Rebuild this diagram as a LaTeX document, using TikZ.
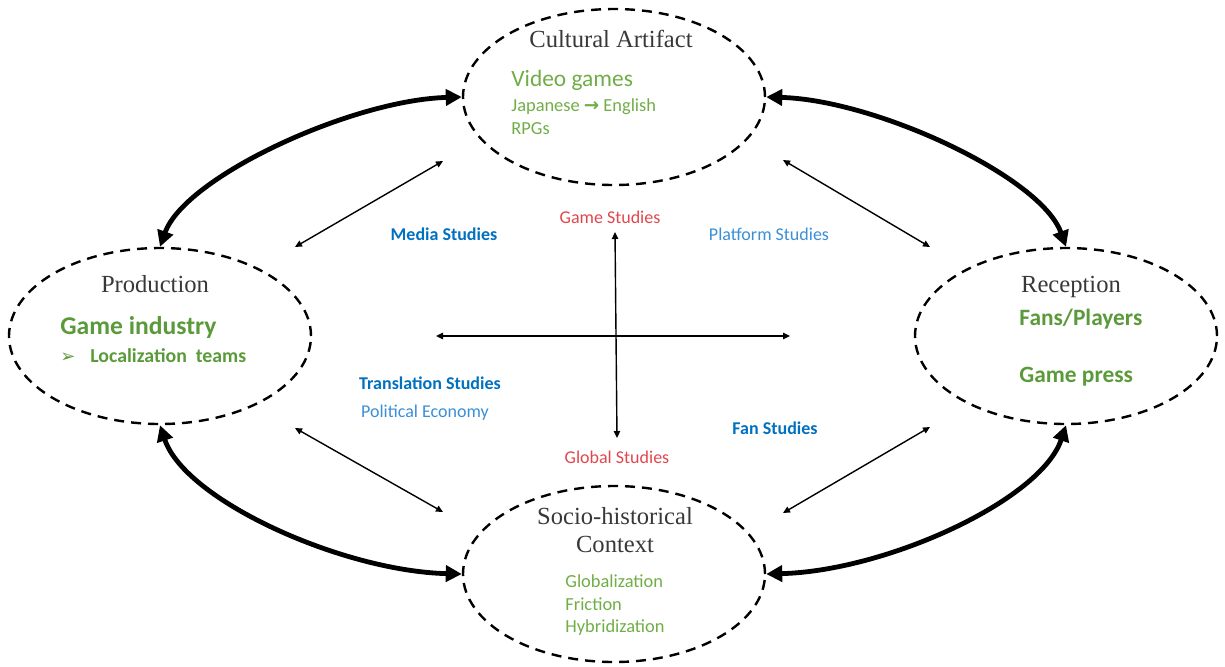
\documentclass[tikz,border=0pt]{standalone}
\usepackage{fontspec}
\setmainfont{Liberation Serif}
\newfontfamily\calfont{Carlito}
\newfontfamily\dvfont{DejaVu Sans}
\usetikzlibrary{shapes.geometric,arrows.meta}
\definecolor{headgray}{HTML}{383838}
\definecolor{greenreg}{HTML}{70AD47}
\definecolor{greenbold}{HTML}{5B9A3A}
\definecolor{bluebold}{HTML}{0070C0}
\definecolor{bluelight}{HTML}{3A8FD6}
\definecolor{studred}{HTML}{E0474C}
\begin{document}
\begin{tikzpicture}[x=0.5pt,y=-0.5pt,
  sphere/.style={ellipse, draw=black, dash pattern=on 5pt off 3.5pt, line width=1.2pt,
    minimum width=151pt, minimum height=88pt, inner sep=0pt},
  headtxt/.style={font=\fontsize{12.3}{14}\selectfont, text=headgray, inner sep=0pt, anchor=mid},
  greenbig/.style={font=\calfont\fontsize{11.7}{14}\selectfont, text=greenreg, inner sep=0pt, anchor=mid west},
  greensmall/.style={font=\calfont\fontsize{9.2}{11}\selectfont, text=greenreg, inner sep=0pt, anchor=mid west},
  greenstrong/.style={font=\calfont\bfseries\fontsize{11.7}{14}\selectfont, text=greenbold, inner sep=0pt, anchor=mid west},
  studbold/.style={font=\calfont\bfseries\fontsize{9}{11}\selectfont, text=bluebold, inner sep=0pt, anchor=mid},
  studlight/.style={font=\calfont\fontsize{9}{11}\selectfont, text=bluelight, inner sep=0pt, anchor=mid},
  studredtxt/.style={font=\calfont\fontsize{9}{11}\selectfont, text=studred, inner sep=0pt, anchor=mid},
  thickarrow/.style={line width=2.4pt, {Triangle[length=8pt,width=8pt]}-{Triangle[length=8pt,width=8pt]}},
  thinarrow/.style={line width=0.7pt, {Triangle[length=3.5pt,width=3.2pt]}-{Triangle[length=3.5pt,width=3.2pt]}}
]
\useasboundingbox (0,0) rectangle (1225,666);

% ellipses
\node[sphere] (ca) at (614,97) {};
\node[sphere] (prod) at (160,336) {};
\node[sphere] (rec) at (1066,336) {};
\node[sphere] (soc) at (614,574) {};

% texts in ellipses
\node[headtxt] (caT) at (611,43) {Cultural Artifact};
\node[greenbig] (vg) at (511,82) {Video games};
\node[greensmall] (je) at (511,107) {Japanese {\dvfont\bfseries →} English};
\node[greensmall] (rpg) at (511,130) {RPGs};

\node[headtxt] (prodT) at (155,288) {Production};
\node[font=\calfont\bfseries\fontsize{12.8}{15}\selectfont, text=greenbold, inner sep=0pt, anchor=mid west] (gi) at (60,330) {Game industry};
\node[font=\dvfont\fontsize{9}{11}\selectfont, text=greenbold, inner sep=0pt, anchor=mid west] (bul) at (60,358) {➢};
\node[font=\calfont\bfseries\fontsize{9.9}{12}\selectfont, text=greenbold, inner sep=0pt, anchor=mid west] (lt) at (90,358) {Localization\ \ teams};

\node[headtxt] (recT) at (1071,288) {Reception};
\node[greenstrong] (fp) at (1019,321) {Fans/Players};
\node[greenstrong] (gp) at (1019,378) {Game press};

\node[headtxt] (soc1) at (615,520) {Socio-historical};
\node[headtxt] (soc2) at (615,548) {Context};
\node[greensmall] (glob) at (565,583) {Globalization};
\node[greensmall] (fric) at (565,606) {Friction};
\node[greensmall] (hyb) at (565,628) {Hybridization};

% study labels
\node[studredtxt] (gs) at (610,219) {Game Studies};
\node[studbold] (ms) at (444,236) {Media Studies};
\node[studlight] (ps) at (769,236) {Platform Studies};
\node[studbold] (ts) at (430,385) {Translation Studies};
\node[studlight] (pe) at (425,413) {Political Economy};
\node[studbold] (fs) at (775,430) {Fan Studies};
\node[studredtxt] (gls) at (617,459) {Global Studies};

% thick curved arrows
\draw[thickarrow] (ca.west) .. controls +(-110,3) and +(25,-70) .. (prod.north);
\draw[thickarrow] (ca.east) .. controls +(110,3) and +(-25,-70) .. (rec.north);
\draw[thickarrow] (prod.south) .. controls +(25,75) and +(-120,-3) .. (soc.west);
\draw[thickarrow] (rec.south) .. controls +(-25,75) and +(120,-3) .. (soc.east);

% thin diagonal arrows
\coordinate (ulA) at (295,247); \coordinate (ulB) at (443,161);
\coordinate (urA) at (783,160); \coordinate (urB) at (930,247);
\coordinate (llA) at (295,428); \coordinate (llB) at (443,512);
\coordinate (lrA) at (930,427); \coordinate (lrB) at (783,513);
\draw[thinarrow] (ulA) -- (ulB);
\draw[thinarrow] (urA) -- (urB);
\draw[thinarrow] (llA) -- (llB);
\draw[thinarrow] (lrA) -- (lrB);

% central cross
\coordinate (hL) at (436,336); \coordinate (hR) at (790,336);
\coordinate (vT) at (615,232); \coordinate (vB) at (617,438);
\draw[thinarrow] (hL) -- (hR);
\draw[thinarrow] (vT) -- (vB);
\end{tikzpicture}
\end{document}
